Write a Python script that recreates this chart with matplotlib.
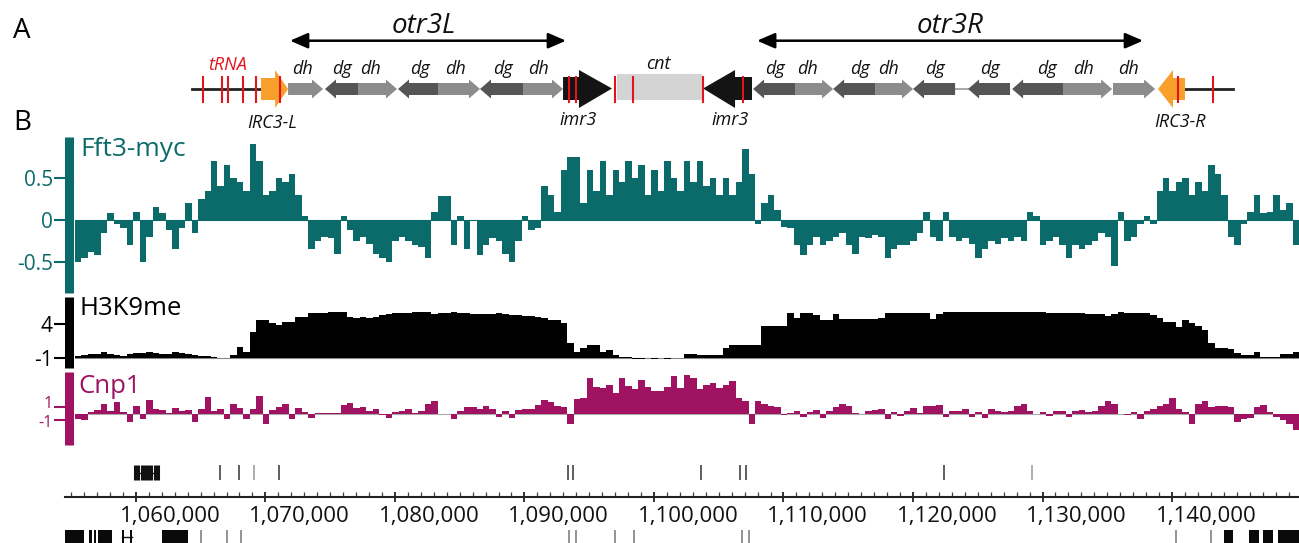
import numpy as np
import matplotlib.pyplot as plt
from matplotlib.patches import Polygon, Rectangle
from matplotlib.ticker import MultipleLocator, FixedLocator
from matplotlib.transforms import ScaledTranslation

plt.rcParams['font.family'] = ['Open Sans', 'DejaVu Sans']

W, H = 1299, 543

# genomic window (bp)
bin_start = 1055300
bin_size = 500
view_start = 1054530
view_end = 1149800

fft3_values = [
    -0.5, -0.45, -0.38, -0.42, -0.15, 0.08, -0.05, -0.1, -0.3, 0.1,
    -0.5, -0.2, 0.15, 0.08, -0.12, -0.35, -0.1, 0.2, -0.15, 0.25,
    0.35, 0.7, 0.4, 0.65, 0.5, 0.45, 0.35, 0.9, 0.7, 0.3,
    0.35, 0.5, 0.45, 0.55, 0.3, 0.05, -0.35, -0.25, -0.2, -0.22,
    -0.4, 0.05, -0.12, -0.25, -0.2, -0.28, -0.4,
    -0.45, -0.5, -0.25, -0.2, -0.25, -0.3, -0.32, -0.45, 0.1, 0.29,
    0.29, -0.3, 0.05, -0.35, 0.0, -0.42, -0.3, -0.22, -0.25, -0.4,
    -0.5, -0.25, 0.05, -0.12, -0.1, 0.4, 0.3, 0.1, 0.6, 0.75,
    0.75, 0.2, 0.6, 0.35, 0.7, 0.3, 0.6, 0.45, 0.7, 0.5,
    0.65, 0.3, 0.6, 0.35, 0.7, 0.5, 0.35, 0.7, 0.45,
    0.7, 0.4, 0.5, 0.3, 0.5, 0.3, 0.45, 0.85, 0.55, -0.05,
    0.2, 0.3, 0.12, -0.08, -0.1, -0.3, -0.42, -0.3, -0.2, -0.3,
    -0.25, -0.2, -0.15, -0.3, -0.4, -0.2, -0.22, -0.18, -0.2, -0.45,
    -0.35, -0.3, -0.3, -0.25, -0.15, 0.1, -0.2, -0.25, 0.1, -0.2,
    -0.25, -0.22, -0.28, -0.45, -0.35, -0.25, -0.28, -0.22, -0.25,
    -0.2, -0.25, 0.1, 0.05, -0.3, -0.25, -0.2, -0.3, -0.45, -0.3,
    -0.35, -0.3, -0.25, -0.15, -0.2, -0.55, 0.1, -0.25, -0.2, -0.05,
    0.05, -0.05, 0.35, 0.5, 0.35, 0.45, 0.5, 0.3, 0.45, 0.35,
    0.65, 0.55, 0.3, -0.2, -0.3, -0.05, 0.1, 0.3, 0.08, 0.1,
    0.3, 0.12, 0.2, -0.3,
]

h3k9_values = [
    -0.7, -0.6, -0.5, -0.5, -0.2, -0.4, -0.6, -0.7, -0.5, -0.3,
    -0.3, -0.1, -0.3, -0.5, -0.5, -0.2, -0.3, -0.5, -0.6, -0.7,
    -0.8, -0.9, -1.1, -1.0, -0.6, 0.65, -0.1, 2.9, 4.65, 4.65,
    4.2, 3.9, 4.4, 4.4, 5.15, 5.15, 5.65, 5.65, 5.65, 5.9,
    5.9, 5.9, 5.15, 5.0, 5.15, 5.0, 5.15,
    5.4, 5.5, 5.75, 5.75, 5.75, 5.9, 5.9, 5.8, 5.6, 5.7,
    5.7, 5.8, 5.7, 5.65, 5.6, 5.5, 5.5, 5.6, 5.7, 5.6,
    5.4, 5.4, 5.3, 5.3, 5.1, 4.9, 4.7, 4.6, 4.15, 1.15,
    -0.1, 0.4, 0.9, 0.9, -0.1, 0.15, -0.6, -0.85, -0.9, -1.2,
    -1.25, -1.1, -1.25, -1.1, -1.2, -1.1, -1.0, -0.5, -0.5,
    -0.6, -0.6, -0.6, -0.6, 0.4, 0.9, 0.9, 0.9, 0.9, 0.9,
    3.7, 3.75, 3.75, 3.75, 5.65, 5.0, 5.65, 5.65, 5.4, 4.7,
    4.7, 5.6, 4.75, 4.75, 4.75, 4.75, 4.75, 4.75, 5.0, 5.65,
    5.65, 5.65, 5.65, 5.65, 5.65, 5.65, 4.8, 5.6, 5.85, 5.85,
    5.85, 5.85, 5.85, 5.85, 5.85, 5.85, 5.85, 5.85, 5.85,
    5.85, 5.85, 5.85, 5.85, 5.85, 5.65, 5.65, 5.65, 5.65, 5.65,
    5.65, 5.55, 5.55, 5.55, 5.25, 5.6, 5.85, 5.75, 5.75, 5.75,
    5.75, 5.4, 4.9, 4.4, 4.4, 3.65, 4.65, 4.25, 3.75, 3.15,
    1.15, 0.4, 0.4, 0.3, -0.35, -0.6, -0.6, -0.1, -0.85, -0.95,
    -0.95, -0.5, -0.5, -0.1,
]

cnp1_values = [
    -0.8, -1.0, 0.3, 0.6, 1.5, 0.5, 1.8, 0.3, -1.3, 1.2,
    -0.8, 2.2, 0.8, 0.6, 0.2, 0.9, 0.4, 0.6, -1.2, 0.8,
    2.6, 0.5, 0.8, -0.8, 1.6, 0.9, -0.8, 0.7, 2.8, -1.5,
    0.6, 1.0, 1.6, -0.7, 0.9, 0.3, -0.6, 0.2, 0.1, 0.1,
    0.2, 1.4, 1.7, 0.9, 1.1, 0.5, 0.7,
    -0.2, -0.6, 0.3, 0.4, 0.8, 0.2, 0.5, 1.5, 2.0, 0.0,
    0.0, -0.7, 0.5, 1.1, 1.0, 0.8, 1.2, 0.8, -0.5, 0.4,
    -0.6, 0.6, 0.8, 0.7, 1.4, 2.2, 1.8, 1.2, 1.0, -1.5,
    2.3, 2.5, 5.5, 4.2, 4.0, 4.4, 3.2, 5.6, 4.3, 3.8,
    5.2, 4.2, 3.6, 3.5, 4.2, 5.8, 4.0, 6.0, 5.5,
    3.8, 4.5, 4.8, 4.0, 4.5, 5.0, 2.5, 2.0, -1.5, 2.0,
    1.6, 1.2, 1.0, -0.2, 0.2, 0.5, -0.5, 0.3, 0.6, -0.6,
    0.5, 1.0, 1.6, 1.3, 0.1, 0.0, 0.5, 0.6, 0.7, -0.8,
    0.3, -0.3, 0.5, 0.9, 0.2, 1.3, 1.2, 1.4, -0.5, 0.4,
    0.5, 0.8, -0.4, 0.3, -0.6, 0.8, 0.4, 0.3, 0.5,
    1.2, 1.5, 0.4, 0.0, 0.3, -0.3, 0.4, 0.5, -0.4, 0.5,
    0.6, 0.3, 0.4, 1.3, 2.0, 1.5, 0.0, -0.2, 0.3, -0.7,
    0.5, 0.7, 1.2, 1.5, 2.4, 0.8, 0.3, -1.5, 1.5, 2.0,
    1.0, 1.3, 1.2, 1.0, -1.2, -0.8, -0.6, 1.0, 1.4, 0.3,
    -0.4, -1.0, -1.5, -2.5,
]

ruler_ticks = [1060000, 1070000, 1080000, 1090000, 1100000,
               1110000, 1120000, 1130000, 1140000]

# repeat arrows: (start, end, strand, kind)
repeats = [
    (1071750, 1074450, 1, 'dh'), (1074600, 1077150, -1, 'dg'),
    (1077150, 1080160, 1, 'dh'), (1080240, 1083330, -1, 'dg'),
    (1083330, 1086570, 1, 'dh'), (1086570, 1089890, -1, 'dg'),
    (1089890, 1092980, 1, 'dh'),
    (1107650, 1110890, -1, 'dg'), (1110890, 1113830, 1, 'dh'),
    (1113830, 1117070, -1, 'dg'), (1117070, 1120000, 1, 'dh'),
    (1120000, 1123250, -1, 'dg'), (1124250, 1127490, -1, 'dg'),
    (1127650, 1131580, -1, 'dg'), (1131580, 1135370, 1, 'dh'),
    (1135440, 1138690, 1, 'dh'),
]
repeat_labels = [
    ('dh', 1072830), ('dg', 1075920), ('dh', 1078080), ('dg', 1081940),
    ('dh', 1084640), ('dg', 1088350), ('dh', 1091050),
    ('dg', 1109350), ('dh', 1111820), ('dg', 1115910), ('dh', 1118070),
    ('dg', 1121700), ('dg', 1125950), ('dg', 1130350), ('dh', 1133130),
    ('dh', 1136600),
]
imr3 = [(1092980, 1096760, 1, 2550), (1103790, 1107570, -1, 2470)]
irc3 = [(1069660, 1071750, 1, 1000), (1138920, 1141000, -1, 1150)]
cnt = (1097150, 1103710)
red_marks = [1065160, 1066630, 1067140, 1068250, 1069280, 1071130,
             1093440, 1093980, 1096990, 1098380, 1103790, 1106880,
             1140460, 1143170]
otr_arrows = [('otr3L', 1071900, 1093210, 1082250),
              ('otr3R', 1107960, 1137760, 1122860)]

# feature rows under the tracks
upper_cluster = [1059950, 1060200, 1060450, 1060700, 1060950, 1061200,
                 1061450, 1061700]
upper_dark = [1066500, 1067960, 1071050, 1093330, 1093720, 1103670,
              1106680, 1107110, 1122430]
upper_light = [1069120, 1129190]
lower_blocks = [(1054530, 1055995), (1056380, 1056650), (1056750, 1056950),
                (1057050, 1058160), (1058930, 1059080), (1059550, 1059700),
                (1062020, 1064020), (1144010, 1144710), (1145950, 1146720),
                (1147020, 1147800), (1148180, 1149800)]
lower_lines = [1065000, 1067010, 1068090, 1093440, 1093980, 1096990,
               1098430, 1106800, 1107340, 1140310, 1143010]

TEAL = '#0b6b6a'
MAGENTA = '#a01262'
RED = '#e3151b'
ORANGE = '#f9a02c'
DARK = '#555555'
LIGHT = '#8c8c8c'


def px_axes(fig, x0, y0, x1, y1):
    return fig.add_axes([x0 / W, 1 - y1 / H, (x1 - x0) / W, (y1 - y0) / H])


def arrow_points(x0, x1, strand, body, head, head_len):
    yc = (body[0] + body[1]) / 2
    if strand > 0:
        xh = x1 - head_len
        return [(x0, body[0]), (xh, body[0]), (xh, head[0]), (x1, yc),
                (xh, head[1]), (xh, body[1]), (x0, body[1])]
    xh = x0 + head_len
    return [(x1, body[0]), (xh, body[0]), (xh, head[0]), (x0, yc),
            (xh, head[1]), (xh, body[1]), (x1, body[1])]


def add_track(fig, box, values, color, ylim, base, ticks, labels, size, base_color):
    ax = px_axes(fig, *box)
    edges = bin_start + bin_size * np.arange(len(values) + 1)
    vals = np.append(values, values[-1])
    ax.axhline(base, color=base_color, lw=0.8, zorder=1)
    ax.fill_between(edges, base, vals, step='post', color=color, lw=0, zorder=2)
    ax.set_xlim(bin_start, view_end)
    ax.set_ylim(*ylim)
    for s in ['top', 'right', 'bottom']:
        ax.spines[s].set_visible(False)
    sp = ax.spines['left']
    sp.set_color(color)
    sp.set_linewidth(6.5)
    sp.set_position(('outward', 4))
    sp.set_capstyle('butt')
    ax.set_xticks([])
    ax.set_yticks(ticks)
    ax.set_yticklabels(labels)
    ax.tick_params(axis='y', direction='out', length=10.5, width=1.5,
                   color=color, labelcolor=color, labelsize=size, pad=1.5)
    ax.patch.set_alpha(0)
    return ax


def draw_annotation(fig):
    ax = px_axes(fig, 65, 0, 1299, 140)
    ax.set_xlim(view_start, view_end)
    ax.set_ylim(140, 0)
    ax.axis('off')
    ax.plot([1064300, 1069700], [89, 89], color='#222222', lw=2, zorder=1)
    ax.plot([1141000, 1144700], [89, 89], color='#222222', lw=2, zorder=1)
    ax.plot([1123250, 1124250], [89, 89], color='#999999', lw=1.2, zorder=1)
    for x0, x1, strand, kind in repeats:
        col = LIGHT if kind == 'dh' else DARK
        ax.add_patch(Polygon(arrow_points(x0, x1, strand, (83, 95), (79.5, 98.5), 850),
                             closed=True, fc=col, ec='none', zorder=2))
    ax.add_patch(Rectangle((cnt[0], 74), cnt[1] - cnt[0], 26, fc='#d4d4d4',
                           ec='none', zorder=2))
    for x0, x1, strand, hl in imr3:
        ax.add_patch(Polygon(arrow_points(x0, x1, strand, (77, 100), (70, 108), hl),
                             closed=True, fc='#141414', ec='none', zorder=3))
    for x0, x1, strand, hl in irc3:
        ax.add_patch(Polygon(arrow_points(x0, x1, strand, (78, 100), (70, 108), hl),
                             closed=True, fc=ORANGE, ec='none', zorder=3))
    ax.vlines(red_marks, 76, 103, color=RED, lw=1.5, zorder=4)

    for name, x0, x1, xl in otr_arrows:
        ax.annotate('', xy=(x1, 40.7), xytext=(x0, 40.7),
                    arrowprops=dict(arrowstyle='<|-|>,head_length=0.6,head_width=0.26',
                                    color='black', lw=1.8, mutation_scale=18,
                                    shrinkA=0, shrinkB=0))
        ax.text(xl, 33, name, ha='center', va='baseline', fontsize=20,
                style='italic', color='#111111')

    for txt, x in repeat_labels:
        ax.text(x, 74, txt, ha='center', va='baseline', fontsize=13,
                style='italic', color='#111111')
    ax.text(1067110, 70, 'tRNA', ha='center', va='baseline', fontsize=13,
            style='italic', color=RED)
    ax.text(1100310, 69, 'cnt', ha='center', va='baseline', fontsize=13,
            style='italic', color='#111111')
    ax.text(1070510, 128, 'IRC3-L', ha='center', va='baseline', fontsize=13,
            style='italic', color='#111111')
    ax.text(1094140, 125, 'imr3', ha='center', va='baseline', fontsize=13,
            style='italic', color='#111111')
    ax.text(1105870, 125, 'imr3', ha='center', va='baseline', fontsize=13,
            style='italic', color='#111111')
    ax.text(1140620, 127, 'IRC3-R', ha='center', va='baseline', fontsize=13,
            style='italic', color='#111111')


def draw_ruler(fig):
    ax = px_axes(fig, 65, 455, 1299, 543)
    ax.set_xlim(view_start, view_end)
    ax.set_ylim(543, 455)
    for s in ['top', 'right', 'left']:
        ax.spines[s].set_visible(False)
    ax.spines['bottom'].set_position(('data', 496.7))
    ax.spines['bottom'].set_linewidth(1.5)
    ax.spines['bottom'].set_color('#222222')
    ax.xaxis.set_major_locator(FixedLocator(ruler_ticks))
    ax.xaxis.set_minor_locator(MultipleLocator(1000))
    ax.tick_params(axis='x', which='major', direction='inout', length=7,
                   width=1.3, color='#222222', labelbottom=False)
    ax.tick_params(axis='x', which='minor', direction='in', length=3.5,
                   width=0.9, color='#444444')
    ax.set_yticks([])
    ax.patch.set_alpha(0)
    shift = ax.transData + ScaledTranslation(0.34, 0, fig.dpi_scale_trans)
    for t in ruler_ticks:
        ax.text(t, 522, f'{t:,}', transform=shift, ha='center', va='baseline',
                fontsize=16, color='#111111')

    ax.vlines(upper_cluster, 465, 480, color='#111111', lw=2.2)
    ax.plot([upper_cluster[0], upper_cluster[-1]], [472.5, 472.5], color='#111111', lw=1)
    ax.vlines(upper_dark, 465, 480, color='#333333', lw=1.1)
    ax.vlines(upper_light, 465, 480, color='#999999', lw=1.1)
    for a, b in lower_blocks:
        ax.add_patch(Rectangle((a, 530), b - a, 13, fc='#0a0a0a', ec='none'))
    ax.plot([1058930, 1059700], [536.5, 536.5], color='#111111', lw=1)
    ax.vlines(lower_lines, 530, 543, color='#777777', lw=1.1)


fig = plt.figure(figsize=(W / 100, H / 100), dpi=100)

fig.text(13 / W, 1 - 38 / H, 'A', fontsize=20, va='baseline')
fig.text(13 / W, 1 - 130 / H, 'B', fontsize=20, va='baseline')

draw_annotation(fig)

add_track(fig, (75, 137, 1299, 293), fft3_values, TEAL, (-0.869, 0.988), 0,
          [-0.5, 0, 0.5], ['-0.5', '0', '0.5'], 15, TEAL)
add_track(fig, (75, 297, 1299, 368), h3k9_values, 'black', (-2.54, 8.09), -1,
          [-1, 4], ['-1', '4'], 15, '#888888')
ax_cnp1 = add_track(fig, (75, 372, 1299, 445), cnp1_values, MAGENTA, (-4.77, 6.46), 0,
                    [-1, 1], ['-1', '1'], 11.5, '#aaaaaa')
# the two Cnp1 labels sit very close, nudge them apart a little
for lab, dy in zip(ax_cnp1.get_yticklabels(), [-2.5, 3.5]):
    lab.set_verticalalignment('center')
    lab.set_transform(lab.get_transform() + ScaledTranslation(0, dy / 100, fig.dpi_scale_trans))

fig.text(80 / W, 1 - 156 / H, 'Fft3-myc', color=TEAL, fontsize=19, va='baseline')
fig.text(80 / W, 1 - 315 / H, 'H3K9me', color='black', fontsize=18.5, va='baseline')
fig.text(78 / W, 1 - 393 / H, 'Cnp1', color=MAGENTA, fontsize=18.5, va='baseline')

draw_ruler(fig)

fig.savefig('out.png', dpi=100)
